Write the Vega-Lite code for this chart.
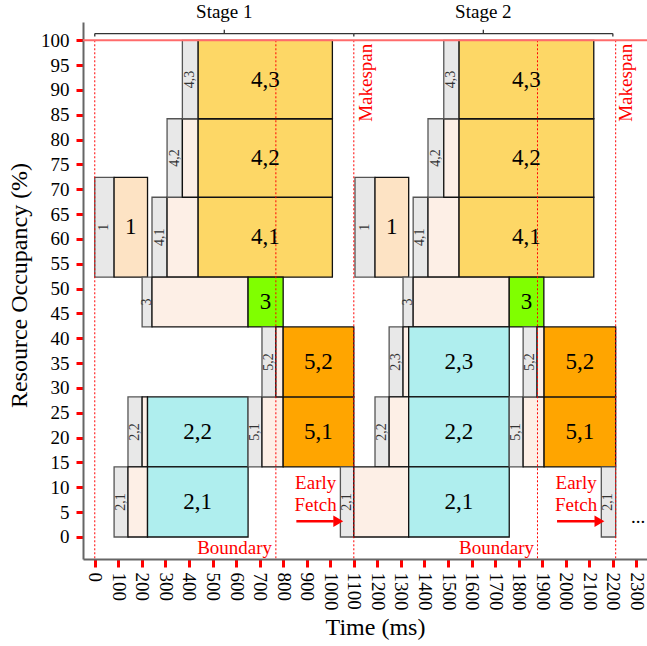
{
  "$schema": "https://vega.github.io/schema/vega-lite/v6.json",
  "autosize": {"type": "none"},
  "padding": {"left": 83, "top": 22, "right": 0, "bottom": 87},
  "width": 564,
  "height": 537,
  "config": {
    "font": "Liberation Serif",
    "view": {"stroke": null}
  },
  "datasets": {
    "blocks": [
      {"stage": 1, "kind": "gray", "x": 0, "x2": 82, "y": 52.3, "y2": 72.4},
      {"stage": 1, "kind": "peach", "x": 82, "x2": 224, "y": 52.3, "y2": 72.4},
      {"stage": 1, "kind": "gray", "x": 243, "x2": 307, "y": 52.3, "y2": 68.4},
      {"stage": 1, "kind": "hatch", "x": 307, "x2": 439, "y": 52.3, "y2": 68.4},
      {"stage": 1, "kind": "yellow", "x": 439, "x2": 1009, "y": 52.3, "y2": 68.4},
      {"stage": 1, "kind": "gray", "x": 307, "x2": 372, "y": 68.4, "y2": 84.2},
      {"stage": 1, "kind": "hatch", "x": 372, "x2": 439, "y": 68.4, "y2": 84.2},
      {"stage": 1, "kind": "yellow", "x": 439, "x2": 1009, "y": 68.4, "y2": 84.2},
      {"stage": 1, "kind": "gray", "x": 372, "x2": 439, "y": 84.2, "y2": 100},
      {"stage": 1, "kind": "yellow", "x": 439, "x2": 1009, "y": 84.2, "y2": 100},
      {"stage": 1, "kind": "gray", "x": 201, "x2": 243, "y": 42.3, "y2": 52.3},
      {"stage": 1, "kind": "hatch", "x": 243, "x2": 651, "y": 42.3, "y2": 52.3},
      {"stage": 1, "kind": "green", "x": 651, "x2": 800, "y": 42.3, "y2": 52.3},
      {"stage": 1, "kind": "gray", "x": 141, "x2": 201, "y": 14.1, "y2": 28.2},
      {"stage": 1, "kind": "hatch", "x": 201, "x2": 224, "y": 14.1, "y2": 28.2},
      {"stage": 1, "kind": "cyan", "x": 224, "x2": 651, "y": 14.1, "y2": 28.2},
      {"stage": 1, "kind": "gray", "x": 82, "x2": 141, "y": 0, "y2": 14.1},
      {"stage": 1, "kind": "hatch", "x": 141, "x2": 224, "y": 0, "y2": 14.1},
      {"stage": 1, "kind": "cyan", "x": 224, "x2": 651, "y": 0, "y2": 14.1},
      {"stage": 1, "kind": "gray", "x": 651, "x2": 710, "y": 14.1, "y2": 28.2},
      {"stage": 1, "kind": "hatch", "x": 710, "x2": 800, "y": 14.1, "y2": 28.2},
      {"stage": 1, "kind": "orange", "x": 800, "x2": 1100, "y": 14.1, "y2": 28.2},
      {"stage": 1, "kind": "gray", "x": 710, "x2": 769, "y": 28.2, "y2": 42.3},
      {"stage": 1, "kind": "hatch", "x": 769, "x2": 800, "y": 28.2, "y2": 42.3},
      {"stage": 1, "kind": "orange", "x": 800, "x2": 1100, "y": 28.2, "y2": 42.3},
      {"stage": 1, "kind": "gray", "x": 1043, "x2": 1100, "y": 0, "y2": 14.1},
      {"stage": 2, "kind": "gray", "x": 1105, "x2": 1190, "y": 52.3, "y2": 72.4},
      {"stage": 2, "kind": "peach", "x": 1190, "x2": 1333, "y": 52.3, "y2": 72.4},
      {"stage": 2, "kind": "gray", "x": 1352, "x2": 1415, "y": 52.3, "y2": 68.4},
      {"stage": 2, "kind": "hatch", "x": 1415, "x2": 1547, "y": 52.3, "y2": 68.4},
      {"stage": 2, "kind": "yellow", "x": 1547, "x2": 2119, "y": 52.3, "y2": 68.4},
      {"stage": 2, "kind": "gray", "x": 1415, "x2": 1482, "y": 68.4, "y2": 84.2},
      {"stage": 2, "kind": "hatch", "x": 1482, "x2": 1547, "y": 68.4, "y2": 84.2},
      {"stage": 2, "kind": "yellow", "x": 1547, "x2": 2119, "y": 68.4, "y2": 84.2},
      {"stage": 2, "kind": "gray", "x": 1482, "x2": 1547, "y": 84.2, "y2": 100},
      {"stage": 2, "kind": "yellow", "x": 1547, "x2": 2119, "y": 84.2, "y2": 100},
      {"stage": 2, "kind": "gray", "x": 1309, "x2": 1352, "y": 42.3, "y2": 52.3},
      {"stage": 2, "kind": "hatch", "x": 1352, "x2": 1760, "y": 42.3, "y2": 52.3},
      {"stage": 2, "kind": "green", "x": 1760, "x2": 1907, "y": 42.3, "y2": 52.3},
      {"stage": 2, "kind": "gray", "x": 1250, "x2": 1309, "y": 28.2, "y2": 42.3},
      {"stage": 2, "kind": "hatch", "x": 1309, "x2": 1333, "y": 28.2, "y2": 42.3},
      {"stage": 2, "kind": "cyan", "x": 1333, "x2": 1760, "y": 28.2, "y2": 42.3},
      {"stage": 2, "kind": "gray", "x": 1190, "x2": 1250, "y": 14.1, "y2": 28.2},
      {"stage": 2, "kind": "hatch", "x": 1250, "x2": 1333, "y": 14.1, "y2": 28.2},
      {"stage": 2, "kind": "cyan", "x": 1333, "x2": 1760, "y": 14.1, "y2": 28.2},
      {"stage": 2, "kind": "hatch", "x": 1100, "x2": 1333, "y": 0, "y2": 14.1},
      {"stage": 2, "kind": "cyan", "x": 1333, "x2": 1760, "y": 0, "y2": 14.1},
      {"stage": 2, "kind": "gray", "x": 1760, "x2": 1819, "y": 14.1, "y2": 28.2},
      {"stage": 2, "kind": "hatch", "x": 1819, "x2": 1908, "y": 14.1, "y2": 28.2},
      {"stage": 2, "kind": "orange", "x": 1908, "x2": 2212, "y": 14.1, "y2": 28.2},
      {"stage": 2, "kind": "gray", "x": 1819, "x2": 1878, "y": 28.2, "y2": 42.3},
      {"stage": 2, "kind": "hatch", "x": 1878, "x2": 1908, "y": 28.2, "y2": 42.3},
      {"stage": 2, "kind": "orange", "x": 1908, "x2": 2212, "y": 28.2, "y2": 42.3},
      {"stage": 2, "kind": "gray", "x": 2151, "x2": 2212, "y": 0, "y2": 14.1}
    ],
    "bigLabels": [
      {"t": "1", "x": 153, "y": 62.35},
      {"t": "4,1", "x": 724, "y": 60.35},
      {"t": "4,2", "x": 724, "y": 76.3},
      {"t": "4,3", "x": 724, "y": 92.1},
      {"t": "3", "x": 725, "y": 47.3},
      {"t": "2,2", "x": 437, "y": 21.15},
      {"t": "2,1", "x": 437, "y": 7.05},
      {"t": "5,1", "x": 950, "y": 21.15},
      {"t": "5,2", "x": 950, "y": 35.25},
      {"t": "1", "x": 1261, "y": 62.35},
      {"t": "4,1", "x": 1833, "y": 60.35},
      {"t": "4,2", "x": 1833, "y": 76.3},
      {"t": "4,3", "x": 1833, "y": 92.1},
      {"t": "3", "x": 1833, "y": 47.3},
      {"t": "2,3", "x": 1546, "y": 35.25},
      {"t": "2,2", "x": 1546, "y": 21.15},
      {"t": "2,1", "x": 1546, "y": 7.05},
      {"t": "5,1", "x": 2060, "y": 21.15},
      {"t": "5,2", "x": 2060, "y": 35.25}
    ],
    "smallLabels": [
      {"t": "1", "x": 41, "y": 62.35},
      {"t": "4,1", "x": 275, "y": 60.35},
      {"t": "4,2", "x": 340, "y": 76.3},
      {"t": "4,3", "x": 405, "y": 92.1},
      {"t": "3", "x": 222, "y": 47.3},
      {"t": "2,2", "x": 171, "y": 21.15},
      {"t": "2,1", "x": 111, "y": 7.05},
      {"t": "5,1", "x": 680, "y": 21.15},
      {"t": "5,2", "x": 740, "y": 35.25},
      {"t": "2,1", "x": 1071, "y": 7.05},
      {"t": "1", "x": 1147, "y": 62.35},
      {"t": "4,1", "x": 1383, "y": 60.35},
      {"t": "4,2", "x": 1448, "y": 76.3},
      {"t": "4,3", "x": 1514, "y": 92.1},
      {"t": "3", "x": 1330, "y": 47.3},
      {"t": "2,3", "x": 1280, "y": 35.25},
      {"t": "2,2", "x": 1220, "y": 21.15},
      {"t": "5,1", "x": 1790, "y": 21.15},
      {"t": "5,2", "x": 1848, "y": 35.25},
      {"t": "2,1", "x": 2181, "y": 7.05}
    ],
    "vlines": [
      {"x": 0, "y": 100, "y2": -4.43},
      {"x": 769, "y": 100, "y2": -4.43},
      {"x": 1100, "y": 100, "y2": -4.43},
      {"x": 1880, "y": 100, "y2": -4.43},
      {"x": 2212, "y": 100, "y2": -4.43}
    ],
    "topLine": [
      {"x": -50, "x2": 2345, "y": 100, "y2": 100}
    ],
    "brackets": [
      {"x": 0, "x2": 1100, "y": 101.35, "y2": 101.35},
      {"x": 0, "x2": 0, "y": 101.35, "y2": 100.75},
      {"x": 550, "x2": 550, "y": 101.35, "y2": 102.1},
      {"x": 1100, "x2": 1100, "y": 101.35, "y2": 100.75},
      {"x": 1100, "x2": 2200, "y": 101.35, "y2": 101.35},
      {"x": 1650, "x2": 1650, "y": 101.35, "y2": 102.1},
      {"x": 2200, "x2": 2200, "y": 101.35, "y2": 100.75}
    ],
    "stages": [
      {"t": "Stage 1", "x": 550, "y": 104.57},
      {"t": "Stage 2", "x": 1650, "y": 104.57}
    ],
    "arrows": [
      {"x": 856, "x2": 1015, "y": 3.16, "y2": 3.16},
      {"x": 1963, "x2": 2124, "y": 3.16, "y2": 3.16}
    ],
    "heads": [
      {"x": 1034, "y": 3.16},
      {"x": 2143, "y": 3.16}
    ],
    "redText": [
      {"t": "Early", "x": 938, "y": 10.87},
      {"t": "Fetch", "x": 938, "y": 6.4},
      {"t": "Early", "x": 2044, "y": 10.87},
      {"t": "Fetch", "x": 2044, "y": 6.4},
      {"t": "Boundary", "x": 594, "y": -2.13},
      {"t": "Boundary", "x": 1706, "y": -2.13}
    ],
    "makespan": [
      {"t": "Makespan", "x": 1151, "y": 91.45},
      {"t": "Makespan", "x": 2255, "y": 91.45}
    ],
    "dots": [
      {"t": "...", "x": 2307, "y": 2.9}
    ]
  },
  "encoding": {
    "x": {
      "field": "x",
      "type": "quantitative",
      "scale": {"domain": [-50, 2345], "nice": false, "zero": false},
      "axis": {
        "title": "Time (ms)",
        "values": [0, 100, 200, 300, 400, 500, 600, 700, 800, 900, 1000, 1100, 1200, 1300, 1400, 1500, 1600, 1700, 1800, 1900, 2000, 2100, 2200, 2300],
        "format": "d",
        "labelAngle": 90,
        "labelFontSize": 19,
        "labelColor": "#000000",
        "labelPadding": 5,
        "labelFlush": false,
        "labelOverlap": false,
        "tickColor": "#ff0000",
        "tickWidth": 3,
        "tickSize": 8,
        "domainColor": "#666666",
        "domainWidth": 2,
        "grid": false,
        "titleFontSize": 24,
        "titleFontWeight": "normal",
        "titleColor": "#000000",
        "titleX": 292,
        "titleY": 75,
        "titleBaseline": "alphabetic",
        "titleAlign": "center"
      }
    },
    "y": {
      "field": "y",
      "type": "quantitative",
      "scale": {"domain": [-4.43, 103.68], "nice": false, "zero": false},
      "axis": {
        "title": "Resource Occupancy (%)",
        "values": [0, 5, 10, 15, 20, 25, 30, 35, 40, 45, 50, 55, 60, 65, 70, 75, 80, 85, 90, 95, 100],
        "format": "d",
        "labelFontSize": 19,
        "labelColor": "#000000",
        "labelPadding": 7,
        "labelFlush": false,
        "labelOverlap": false,
        "tickColor": "#ff0000",
        "tickWidth": 3,
        "tickSize": 7,
        "domainColor": "#666666",
        "domainWidth": 2,
        "grid": false,
        "titleFontSize": 24,
        "titleFontWeight": "normal",
        "titleColor": "#000000",
        "titleX": -57,
        "titleY": 263,
        "titleBaseline": "alphabetic",
        "titleAlign": "center"
      }
    }
  },
  "layer": [
    {
      "data": {"name": "blocks"},
      "mark": {"type": "rect", "strokeWidth": 1.3},
      "encoding": {
        "x2": {"field": "x2"},
        "y2": {"field": "y2"},
        "fill": {
          "field": "kind",
          "type": "nominal",
          "scale": {
            "domain": ["gray", "hatch", "peach", "yellow", "green", "cyan", "orange"],
            "range": ["#e8e8e8", "#fdefe6", "#fde3c4", "#fdd766", "#80ff00", "#afeeee", "#ffa500"]
          },
          "legend": null
        },
        "stroke": {
          "field": "kind",
          "type": "nominal",
          "scale": {
            "domain": ["gray", "hatch", "peach", "yellow", "green", "cyan", "orange"],
            "range": ["#555555", "#111111", "#111111", "#111111", "#111111", "#111111", "#111111"]
          },
          "legend": null
        }
      }
    },
    {
      "data": {"name": "vlines"},
      "mark": {"type": "rule", "color": "#ff0000", "strokeDash": [2, 2], "strokeWidth": 1},
      "encoding": {"y2": {"field": "y2"}}
    },
    {
      "data": {"name": "topLine"},
      "mark": {"type": "rule", "color": "#ff6b6b", "strokeWidth": 2},
      "encoding": {"x2": {"field": "x2"}, "y2": {"field": "y2"}}
    },
    {
      "data": {"name": "brackets"},
      "mark": {"type": "rule", "color": "#333333", "strokeWidth": 1.3},
      "encoding": {"x2": {"field": "x2"}, "y2": {"field": "y2"}}
    },
    {
      "data": {"name": "arrows"},
      "mark": {"type": "rule", "color": "#ff0000", "strokeWidth": 2.5},
      "encoding": {"x2": {"field": "x2"}, "y2": {"field": "y2"}}
    },
    {
      "data": {"name": "heads"},
      "mark": {"type": "point", "shape": "triangle-right", "filled": true, "color": "#ff0000", "opacity": 1, "size": 130}
    },
    {
      "data": {"name": "bigLabels"},
      "mark": {"type": "text", "fontSize": 23, "color": "#000000", "align": "center", "baseline": "middle"},
      "encoding": {"text": {"field": "t"}}
    },
    {
      "data": {"name": "smallLabels"},
      "mark": {"type": "text", "fontSize": 14, "color": "#333333", "angle": 270, "align": "center", "baseline": "middle"},
      "encoding": {"text": {"field": "t"}}
    },
    {
      "data": {"name": "stages"},
      "mark": {"type": "text", "fontSize": 19, "color": "#000000", "align": "center", "baseline": "alphabetic"},
      "encoding": {"text": {"field": "t"}}
    },
    {
      "data": {"name": "redText"},
      "mark": {"type": "text", "fontSize": 19, "color": "#ff0000", "align": "center", "baseline": "middle"},
      "encoding": {"text": {"field": "t"}}
    },
    {
      "data": {"name": "makespan"},
      "mark": {"type": "text", "fontSize": 19, "color": "#ff0000", "angle": 270, "align": "center", "baseline": "middle"},
      "encoding": {"text": {"field": "t"}}
    },
    {
      "data": {"name": "dots"},
      "mark": {"type": "text", "fontSize": 19, "color": "#000000", "align": "center", "baseline": "alphabetic"},
      "encoding": {"text": {"field": "t"}}
    }
  ]
}
